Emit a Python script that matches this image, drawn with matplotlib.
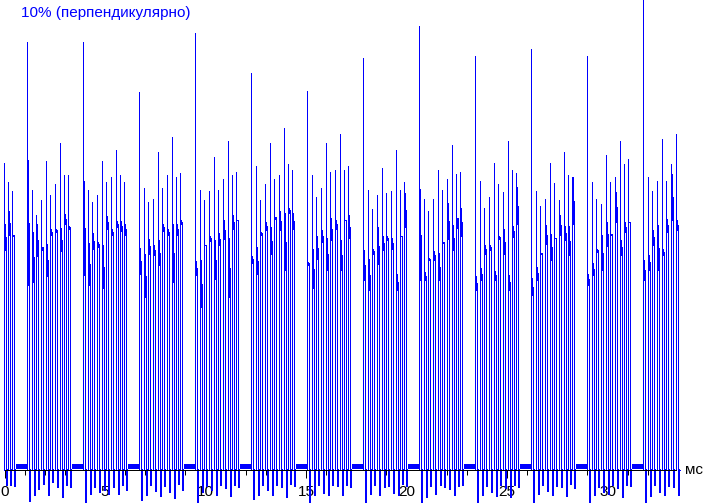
import matplotlib
matplotlib.use("Agg")
import matplotlib.pyplot as plt
from matplotlib.ticker import FixedLocator

plt.rcParams['font.family'] = ['Liberation Sans', 'DejaVu Sans']

# ---------------- data ----------------
TITLE = "10% (перпендикулярно)"
X_UNIT = "мс"
X_TICKS = [0, 5, 10, 15, 20, 25, 30]
X_MINOR = list(range(0, 34))
T_START, T_END = -0.05, 33.45          # recorded time window, ms

# start of each burst of PWM pulses (ms)
BURST_START = [-1.67, 1.12, 3.91, 6.69, 9.48, 12.26, 15.05, 17.84,
               20.62, 23.41, 26.19, 28.98, 31.77]
# pulse positions inside a burst (ms after burst start)
PULSE_OFFSET = [0.00, 0.25, 0.45, 0.70, 0.95, 1.14, 1.39, 1.64, 1.84, 2.04]
GAP_LEVEL = 4                            # signal level between bursts

N = None
PEAK = [
    [N, N, N, N, N, N, N, 307, 288, 279],
    [428, 280, 255, 270, 309, 275, 286, 327, 295, 295],
    [428, 280, 268, 275, 309, 288, 293, 320, 295, 288],
    [378, 282, 268, 271, 318, 282, 295, 333, 293, 297],
    [437, 280, 270, 279, 313, 280, 291, 329, 295, 298],
    [397, 304, 270, 286, 327, 291, 295, 342, 306, 300],
    [379, 295, 273, 282, 327, 298, 300, 336, 300, 304],
    [412, 280, 261, 275, 302, 277, 279, 320, 280, 288],
    [444, 271, 259, 271, 300, 280, 291, 325, 296, 298],
    [414, 289, 262, 273, 307, 286, 278, 329, 300, 297],
    [421, 279, 264, 271, 307, 287, 270, 318, 295, 293],
    [414, 288, 271, 266, 315, 288, 293, 329, 306, 311],
    [480, 293, 279, 289, 331, 289, 306, 336, N, N],
]
MID = [
    [N, N, N, N, N, N, N, 246, 259, 235],
    [310, 238, 246, 220, 226, 241, 241, 242, 256, 244],
    [289, 227, 237, 228, 225, 254, 241, 249, 249, 246],
    [222, 216, 231, 225, 230, 246, 241, 246, 246, 250],
    [209, 210, 225, 234, 230, 237, 250, 232, 255, 250],
    [214, 223, 238, 248, 243, 251, 259, 257, 262, 257],
    [208, 221, 234, 240, 232, 252, 250, 230, 250, 255],
    [220, 211, 221, 243, 234, 234, 232, 196, 234, 277],
    [281, 198, 212, 219, 217, 228, 267, 245, 242, 262],
    [194, 202, 225, 225, 199, 234, 241, 195, 244, 283],
    [192, 203, 217, 245, 236, 232, 255, 244, 244, 293],
    [196, 207, 221, 235, 248, 236, 278, 230, 248, 248],
    [210, 215, 240, 245, 221, 251, 296, 250, N, N],
]
END = [
    [N, N, N, N, N, N, N, 220, 235, 234],
    [185, 188, 214, 223, 194, 235, 238, 219, 246, 241],
    [195, 185, 221, 223, 182, 241, 235, 243, 239, 235],
    [196, 173, 216, 215, 205, 239, 235, 188, 235, 246],
    [195, 163, 225, 229, 191, 225, 231, 173, 241, 250],
    [207, 196, 235, 240, 216, 253, 240, 200, 257, 241],
    [205, 182, 211, 228, 200, 230, 241, 200, 250, 232],
    [190, 180, 216, 206, 220, 230, 221, 180, 234, 243],
    [190, 190, 210, 210, 190, 227, 231, 220, 252, 234],
    [180, 190, 216, 220, 190, 231, 216, 180, 233, 246],
    [175, 190, 216, 226, 210, 232, 235, 230, 215, 246],
    [185, 195, 218, 200, 224, 235, 248, 215, 238, 248],
    [190, 200, 225, 200, 215, 238, 250, 240, N, N],
]
UNDER = [
    [N, N, N, N, N, N, N, -15, -15, -16],
    [-31, -25, -19, -14, -25, -12, -17, -27, -15, -17],
    [-32, -24, -17, -22, -20, -24, -17, -24, -15, -20],
    [-30, -25, -15, -21, -26, -16, -22, -28, -14, -20],
    [-33, -22, -16, -20, -25, -15, -18, -26, -15, -17],
    [-29, -25, -15, -20, -25, -15, -17, -27, -14, -16],
    [-34, -25, -15, -23, -25, -15, -16, -25, -15, -17],
    [-32, -24, -15, -25, -17, -16, -23, -25, -14, -16],
    [-34, -27, -16, -24, -15, -17, -19, -25, -16, -15],
    [-32, -25, -16, -22, -26, -15, -18, -27, -15, -17],
    [-33, -24, -15, -21, -25, -16, -17, -26, -14, -18],
    [-32, -25, -17, -22, -24, -15, -18, -27, -15, -16],
    [-34, -26, -15, -22, -25, -16, -17, -25, N, N],
]

# ---------------- figure ----------------
W, H = 703, 503
PX_PER_MS = 20.1
X0_PX = 4.5
BASE_PX = 469.5
BLUE = "#0000ff"
NAN = float('nan')

fig = plt.figure(figsize=(W / 100, H / 100), dpi=100)
ax = fig.add_axes([0, 0, 1, 1])
ax.set_xlim(-X0_PX / PX_PER_MS, (W - X0_PX) / PX_PER_MS)
ax.set_ylim(-(H - BASE_PX), BASE_PX)

# build the waveform from the pulse table (one piece per pulse)
t, v = [], []
gaps = []
for b, start in enumerate(BURST_START):
    last = None
    for k, off in enumerate(PULSE_OFFSET):
        p = PEAK[b][k]
        if p is None:
            continue
        t0 = start + off
        if t0 < T_START or t0 > T_END:
            continue
        t += [t0, t0, t0 + 0.01, t0 + 0.10, t0 + 0.11, t0 + 0.15, NAN]
        v += [0, p, MID[b][k], END[b][k], UNDER[b][k], 0, NAN]
        last = t0
    if last is not None and b + 1 < len(BURST_START):
        gaps.append((last + 0.20, BURST_START[b + 1] - 0.02))

line, = ax.plot(t, v, color=BLUE, lw=0.72, zorder=2)
line.set_antialiased(False)
line.set_snap(True)
for g0, g1 in gaps:
    gl, = ax.plot([g0, g1], [GAP_LEVEL, GAP_LEVEL], color=BLUE, lw=2.2,
                  solid_capstyle='butt', zorder=2)
    gl.set_antialiased(False)
    gl.set_snap(True)

# axis
for s in ['top', 'left', 'right']:
    ax.spines[s].set_visible(False)
sp = ax.spines['bottom']
sp.set_position(('data', 0))
sp.set_bounds(0, 33.4)
sp.set_linewidth(0.72)
sp.set_antialiased(False)
sp.set_zorder(3)
ax.set_yticks([])
ax.xaxis.set_major_locator(FixedLocator(X_TICKS))
ax.xaxis.set_minor_locator(FixedLocator(X_MINOR))
ax.set_xticklabels([str(x) for x in X_TICKS])
ax.tick_params(axis='x', which='major', direction='out', length=5.8,
               width=0.72, pad=5.5, labelsize=11, colors='black')
ax.tick_params(axis='x', which='minor', direction='out', length=3.6,
               width=0.72)
ax.patch.set_visible(False)

ax.text((685 - X0_PX) / PX_PER_MS, -4.5, X_UNIT, fontsize=11,
        va='baseline', ha='left', color='black')
fig.text(21 / W, 1 - 6 / H, TITLE, color=BLUE, fontsize=11,
         va='top', ha='left')

fig.savefig("out.png", dpi=100, facecolor='white')
